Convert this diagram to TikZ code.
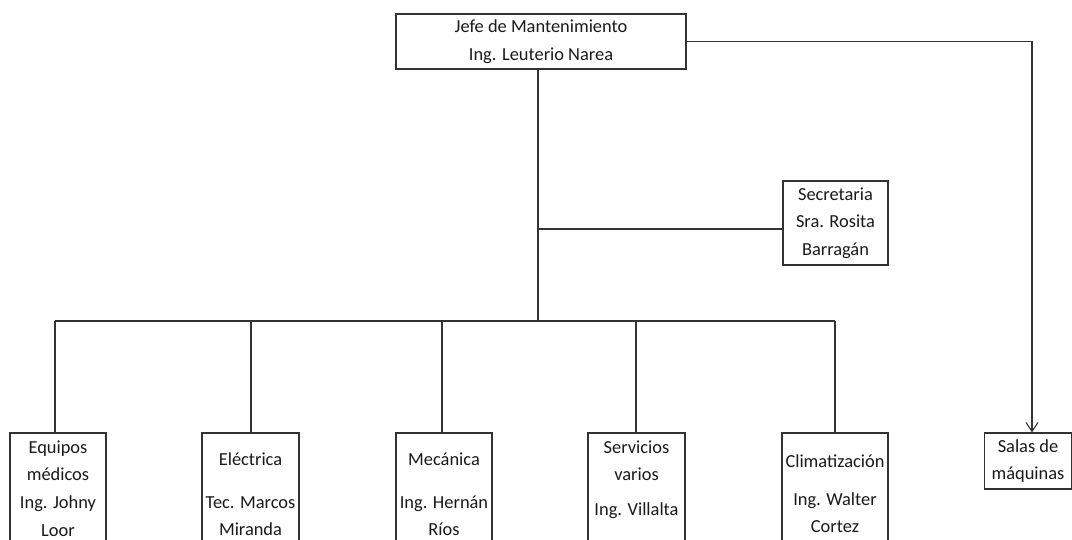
\documentclass[tikz,border=0pt]{standalone}
\usepackage{fontspec}
\setmainfont{Carlito}
\usetikzlibrary{arrows.meta,positioning}

\begin{document}
\begin{tikzpicture}[x=1pt, y=-1pt,
    box/.style={draw=black!80, line width=1.1pt, rectangle, inner sep=0pt, align=center, text=black!90, font=\fontsize{18.4}{27.6}\selectfont},
    word/.style={align=center, inner sep=0pt, text=black!90, font=\fontsize{18.4}{27.6}\selectfont},
    link/.style={draw=black!80, line width=1.1pt}]

\useasboundingbox (0,0) rectangle (1072,540);

% upper boxes
\node[box, minimum width=290pt, minimum height=55pt] (jefe) at (541,41.5) {Jefe de Mantenimiento\\Ing. Leuterio Narea};
\node[box, minimum width=105pt, minimum height=84pt] (secre) at (835.5,223) {Secretaria\\Sra. Rosita\\Barragán};
\node[box, minimum width=87pt, minimum height=56pt] (salas) at (1028,461) {Salas de\\máquinas};

% lower boxes, cut by the page edge
\node[box, minimum width=96pt, minimum height=130pt] (equipos) at (58,498) {};
\node[box, minimum width=97pt, minimum height=130pt] (electrica) at (250.5,498) {};
\node[box, minimum width=96pt, minimum height=130pt] (mecanica) at (444,498) {};
\node[box, minimum width=97pt, minimum height=130pt] (servicios) at (636.5,498) {};
\node[box, minimum width=106pt, minimum height=130pt] (clima) at (835,498) {};

\node[word] (equipos-t) at (58,488.5) {Equipos\\médicos\\Ing. Johny\\Loor};
\node[word] (electrica-t) at (250.5,494.5) {Eléctrica\\[15pt]Tec. Marcos\\Miranda};
\node[word] (mecanica-t) at (444,494.5) {Mecánica\\[15pt]Ing. Hernán\\Ríos};
\node[word] (servicios-t) at (636.5,479.5) {Servicios\\varios\\[7pt]Ing. Villalta};
\node[word] (clima-t) at (835,494) {Climatización\\[10pt]Ing. Walter\\Cortez};

% trunk and bus
\coordinate (trunk) at (538,321);
\coordinate (sec-tap) at (538,229);
\coordinate (bus-l) at (55,321);
\coordinate (bus-r) at (835,321);
\draw[link] (jefe.south -| trunk) -- (trunk);
\draw[link] (sec-tap) -- (sec-tap -| secre.west);
\draw[link] (bus-l) -- (bus-r);
\foreach \x/\n in {55/equipos,251/electrica,442/mecanica,636/servicios,835/clima}{
    \coordinate (tap-\n) at (\x,321);
    \draw[link] (tap-\n) -- (tap-\n |- \n.north);
}

% arrow to the machine rooms
\coordinate (bend) at (1032,41.5);
\draw[link, -{Straight Barb[length=9pt,width=12pt]}] (jefe.east) -- (bend) -- (bend |- salas.north);

\end{tikzpicture}
\end{document}
